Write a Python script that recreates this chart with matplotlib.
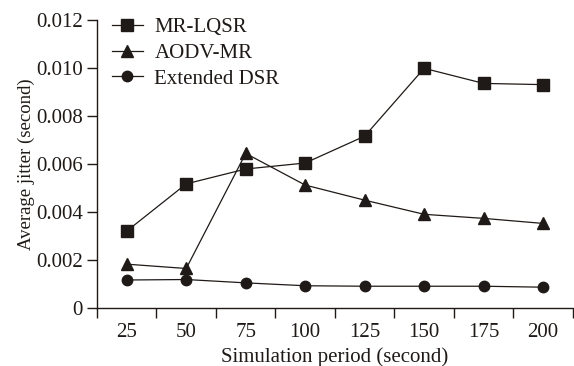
import matplotlib
matplotlib.use("Agg")
import matplotlib.pyplot as plt
import numpy as np

categories = ["25", "50", "75", "100", "125", "150", "175", "200"]
mr_lqsr = [0.0032, 0.00517, 0.00579, 0.00604, 0.00716, 0.00999, 0.00936, 0.00931]
aodv_mr = [0.00182, 0.00164, 0.00644, 0.00512, 0.00449, 0.00390, 0.00373, 0.00352]
ext_dsr = [0.00116, 0.00118, 0.00104, 0.00092, 0.00090, 0.00090, 0.00090, 0.00086]
yticks = [0, 0.002, 0.004, 0.006, 0.008, 0.010, 0.012]
ytick_labels = ["0", "0.002", "0.004", "0.006", "0.008", "0.010", "0.012"]

plt.rcParams['font.family'] = ['Liberation Serif', 'DejaVu Serif']

fig = plt.figure(figsize=(5.74, 3.66), dpi=100)
ax = fig.add_axes([0.169, 0.159, 0.829, 0.786])

x = np.arange(len(categories))
col = '#1f1a17'
ax.plot(x, mr_lqsr, '-s', color=col, lw=0.9, ms=8.5, label='MR-LQSR')
ax.plot(x, aodv_mr, '-^', color=col, lw=0.9, ms=9, label='AODV-MR')
ax.plot(x, ext_dsr, '-o', color=col, lw=0.9, ms=7.5, label='Extended DSR')

ax.set_xlim(-0.5, len(categories) - 0.5)
ax.set_ylim(0, 0.012)
ax.set_xticks(np.arange(len(categories) + 1) - 0.5)
ax.set_xticklabels([])
ax.set_xticks(x, minor=True)
ax.set_xticklabels(categories, minor=True)
ax.tick_params(axis='x', which='major', direction='out', length=7, width=1, color=col)
ax.tick_params(axis='x', which='minor', length=0, labelsize=15, pad=11, colors=col)
ax.set_yticks(yticks)
ax.set_yticklabels(ytick_labels)
ax.tick_params(axis='y', direction='out', length=7, width=1, labelsize=15, pad=3, colors=col)

for s in ['top', 'right']:
    ax.spines[s].set_visible(False)
for s in ['left', 'bottom']:
    ax.spines[s].set_linewidth(1)
    ax.spines[s].set_color(col)

ax.set_xlabel('Simulation period (second)', fontsize=15, color=col, labelpad=4)
ax.set_ylabel('Average jitter (second)', fontsize=13.5, color=col, labelpad=1)

leg = ax.legend(loc='upper left', bbox_to_anchor=(0.0, 1.06), frameon=False,
                fontsize=15, handlelength=1.5, handletextpad=0.55, labelspacing=0.3,
                borderaxespad=0.3)
for t in leg.get_texts():
    t.set_color(col)

fig.savefig('out.png', dpi=100)
